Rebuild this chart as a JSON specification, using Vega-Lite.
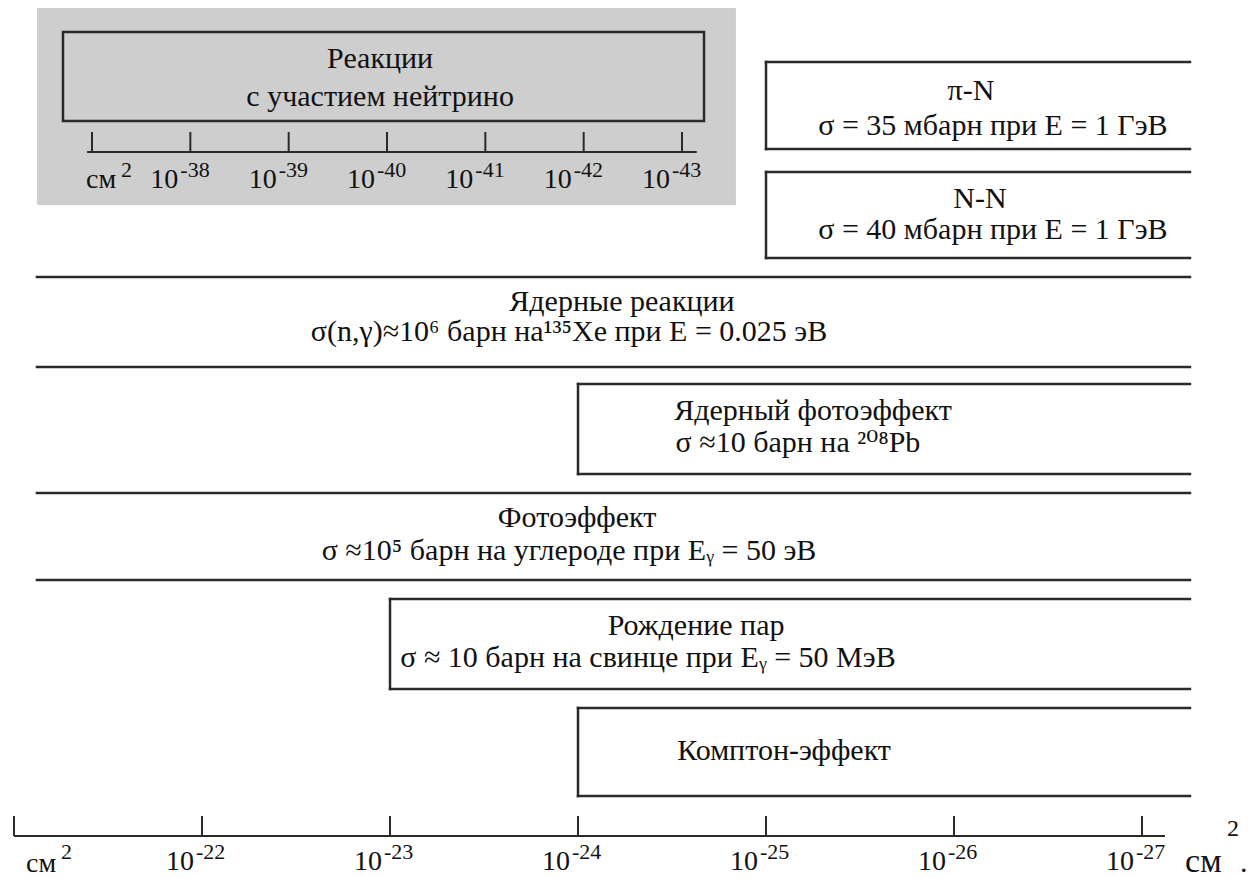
{
  "$schema": "https://vega.github.io/schema/vega-lite/v6.json",
  "width": 1249,
  "height": 878,
  "padding": 0,
  "background": "white",
  "config": {"view": {"stroke": null}, "font": "Times New Roman, Liberation Serif, DejaVu Serif, serif", "text": {"font": "Times New Roman, Liberation Serif, DejaVu Serif, serif", "color": "#111"}},
  "datasets": {
    "panel": [{"d0": 21.122, "d1": 24.84, "top": 8, "bottom": 205}],
    "boxes": [
      {"name": "π-N", "d0": 25, "d1": 27.255, "top": 62, "bottom": 149, "leftEdge": true},
      {"name": "N-N", "d0": 25, "d1": 27.255, "top": 172, "bottom": 258, "leftEdge": true},
      {"name": "Ядерные реакции", "d0": 21.122, "d1": 27.255, "top": 277, "bottom": 367, "leftEdge": false},
      {"name": "Ядерный фотоэффект", "d0": 24, "d1": 27.255, "top": 384, "bottom": 474, "leftEdge": true},
      {"name": "Фотоэффект", "d0": 21.122, "d1": 27.255, "top": 493, "bottom": 580, "leftEdge": false},
      {"name": "Рождение пар", "d0": 23, "d1": 27.255, "top": 599, "bottom": 689, "leftEdge": true},
      {"name": "Комптон-эффект", "d0": 24, "d1": 27.255, "top": 708, "bottom": 796, "leftEdge": true}
    ],
    "mainText": [
      {"d": 26.09, "y": 100, "text": "π-N"},
      {"d": 26.207, "y": 135, "text": "σ = 35 мбарн при Е = 1 ГэВ"},
      {"d": 26.138, "y": 208, "text": "N-N"},
      {"d": 26.207, "y": 239, "text": "σ = 40 мбарн при Е = 1 ГэВ"},
      {"d": 24.234, "y": 311, "text": "Ядерные реакции"},
      {"d": 23.952, "y": 341, "text": "σ(n,γ)≈10⁶ барн на¹³⁵Xe при Е = 0.025 эВ"},
      {"d": 25.25, "y": 420, "text": "Ядерный фотоэффект"},
      {"d": 25.17, "y": 452, "text": "σ ≈10 барн на ²⁰⁸Pb"},
      {"d": 23.995, "y": 527, "text": "Фотоэффект"},
      {"d": 23.952, "y": 560, "text": "σ ≈10⁵ барн на углероде при Eᵧ = 50 эВ"},
      {"d": 24.628, "y": 635, "text": "Рождение пар"},
      {"d": 24.372, "y": 667, "text": "σ ≈ 10 барн на свинце при Eᵧ = 50 МэВ"},
      {"d": 25.096, "y": 760, "text": "Комптон-эффект"}
    ],
    "mainLine": [{"d0": 21, "d1": 27.122, "y": 836}],
    "mainTicks": [
      {"d": 21, "kind": "unit", "base": "см", "sup": "2"},
      {"d": 22, "kind": "pow", "base": "10", "sup": "-22"},
      {"d": 23, "kind": "pow", "base": "10", "sup": "-23"},
      {"d": 24, "kind": "pow", "base": "10", "sup": "-24"},
      {"d": 25, "kind": "pow", "base": "10", "sup": "-25"},
      {"d": 26, "kind": "pow", "base": "10", "sup": "-26"},
      {"d": 27, "kind": "pow", "base": "10", "sup": "-27"}
    ],
    "endUnit": [{"d": 27.229, "base": "см", "sup": "2", "stop": "."}],
    "nuBox": [{"n0": 36.705, "n1": 43.224, "top": 32, "bottom": 121}],
    "nuText": [
      {"n": 39.93, "y": 68, "text": "Реакции"},
      {"n": 39.93, "y": 106, "text": "с участием нейтрино"}
    ],
    "nuLine": [{"n0": 36.95, "n1": 43.15, "y": 152}],
    "nuTicks": [
      {"n": 37, "kind": "unit", "base": "см", "sup": "2"},
      {"n": 38, "kind": "pow", "base": "10", "sup": "-38"},
      {"n": 39, "kind": "pow", "base": "10", "sup": "-39"},
      {"n": 40, "kind": "pow", "base": "10", "sup": "-40"},
      {"n": 41, "kind": "pow", "base": "10", "sup": "-41"},
      {"n": 42, "kind": "pow", "base": "10", "sup": "-42"},
      {"n": 43, "kind": "pow", "base": "10", "sup": "-43"}
    ]
  },
  "layer": [
    {
      "layer": [
        {
          "data": {"name": "panel"},
          "mark": {"type": "rect", "fill": "#cecece"},
          "encoding": {
            "x": {"field": "d0", "type": "quantitative", "scale": {"domain": [20.9255, 27.5691], "nice": false, "zero": false}, "axis": null},
            "x2": {"field": "d1"},
            "y": {"field": "top", "type": "quantitative", "scale": {"domain": [0, 878], "reverse": true, "nice": false, "zero": false}, "axis": null},
            "y2": {"field": "bottom"}
          }
        },
        {
          "data": {"name": "boxes"},
          "transform": [{"fold": ["top", "bottom"], "as": ["edge", "yy"]}],
          "mark": {"type": "rule", "color": "#2a2a2a", "strokeWidth": 2.5, "strokeCap": "square"},
          "encoding": {
            "x": {"field": "d0", "type": "quantitative", "scale": {"domain": [20.9255, 27.5691], "nice": false, "zero": false}, "axis": null},
            "x2": {"field": "d1"},
            "y": {"field": "yy", "type": "quantitative", "scale": {"domain": [0, 878], "reverse": true, "nice": false, "zero": false}, "axis": null}
          }
        },
        {
          "data": {"name": "boxes"},
          "transform": [{"filter": "datum.leftEdge"}],
          "mark": {"type": "rule", "color": "#2a2a2a", "strokeWidth": 2.5, "strokeCap": "square"},
          "encoding": {
            "x": {"field": "d0", "type": "quantitative", "scale": {"domain": [20.9255, 27.5691], "nice": false, "zero": false}, "axis": null},
            "y": {"field": "top", "type": "quantitative", "scale": {"domain": [0, 878], "reverse": true, "nice": false, "zero": false}, "axis": null},
            "y2": {"field": "bottom"}
          }
        },
        {
          "data": {"name": "mainText"},
          "mark": {"type": "text", "font": "Times New Roman, Liberation Serif, DejaVu Serif, serif", "fontSize": 30, "align": "center", "baseline": "alphabetic"},
          "encoding": {
            "x": {"field": "d", "type": "quantitative", "scale": {"domain": [20.9255, 27.5691], "nice": false, "zero": false}, "axis": null},
            "y": {"field": "y", "type": "quantitative", "scale": {"domain": [0, 878], "reverse": true, "nice": false, "zero": false}, "axis": null},
            "text": {"field": "text"}
          }
        },
        {
          "data": {"name": "mainLine"},
          "mark": {"type": "rule", "color": "#2a2a2a", "strokeWidth": 2},
          "encoding": {
            "x": {"field": "d0", "type": "quantitative", "scale": {"domain": [20.9255, 27.5691], "nice": false, "zero": false}, "axis": null},
            "x2": {"field": "d1"},
            "y": {"field": "y", "type": "quantitative", "scale": {"domain": [0, 878], "reverse": true, "nice": false, "zero": false}, "axis": null}
          }
        },
        {
          "data": {"name": "mainTicks"},
          "mark": {"type": "rule", "color": "#2a2a2a", "strokeWidth": 2},
          "encoding": {
            "x": {"field": "d", "type": "quantitative", "scale": {"domain": [20.9255, 27.5691], "nice": false, "zero": false}, "axis": null},
            "y": {"datum": 816, "type": "quantitative", "scale": {"domain": [0, 878], "reverse": true, "nice": false, "zero": false}, "axis": null},
            "y2": {"datum": 836}
          }
        },
        {
          "data": {"name": "mainTicks"},
          "transform": [{"filter": "datum.kind == 'pow'"}],
          "mark": {"type": "text", "font": "Times New Roman, Liberation Serif, DejaVu Serif, serif", "fontSize": 28, "align": "right", "baseline": "alphabetic", "dx": -8},
          "encoding": {
            "x": {"field": "d", "type": "quantitative", "scale": {"domain": [20.9255, 27.5691], "nice": false, "zero": false}, "axis": null},
            "y": {"datum": 870, "type": "quantitative", "scale": {"domain": [0, 878], "reverse": true, "nice": false, "zero": false}, "axis": null},
            "text": {"field": "base"}
          }
        },
        {
          "data": {"name": "mainTicks"},
          "transform": [{"filter": "datum.kind == 'pow'"}],
          "mark": {"type": "text", "font": "Times New Roman, Liberation Serif, DejaVu Serif, serif", "fontSize": 22, "align": "left", "baseline": "alphabetic", "dx": -6},
          "encoding": {
            "x": {"field": "d", "type": "quantitative", "scale": {"domain": [20.9255, 27.5691], "nice": false, "zero": false}, "axis": null},
            "y": {"datum": 859, "type": "quantitative", "scale": {"domain": [0, 878], "reverse": true, "nice": false, "zero": false}, "axis": null},
            "text": {"field": "sup"}
          }
        },
        {
          "data": {"name": "mainTicks"},
          "transform": [{"filter": "datum.kind == 'unit'"}],
          "mark": {"type": "text", "font": "Times New Roman, Liberation Serif, DejaVu Serif, serif", "fontSize": 28, "align": "left", "baseline": "alphabetic", "dx": 12},
          "encoding": {
            "x": {"field": "d", "type": "quantitative", "scale": {"domain": [20.9255, 27.5691], "nice": false, "zero": false}, "axis": null},
            "y": {"datum": 872, "type": "quantitative", "scale": {"domain": [0, 878], "reverse": true, "nice": false, "zero": false}, "axis": null},
            "text": {"field": "base"}
          }
        },
        {
          "data": {"name": "mainTicks"},
          "transform": [{"filter": "datum.kind == 'unit'"}],
          "mark": {"type": "text", "font": "Times New Roman, Liberation Serif, DejaVu Serif, serif", "fontSize": 22, "align": "left", "baseline": "alphabetic", "dx": 47},
          "encoding": {
            "x": {"field": "d", "type": "quantitative", "scale": {"domain": [20.9255, 27.5691], "nice": false, "zero": false}, "axis": null},
            "y": {"datum": 859, "type": "quantitative", "scale": {"domain": [0, 878], "reverse": true, "nice": false, "zero": false}, "axis": null},
            "text": {"field": "sup"}
          }
        },
        {
          "data": {"name": "endUnit"},
          "mark": {"type": "text", "font": "Times New Roman, Liberation Serif, DejaVu Serif, serif", "fontSize": 34, "align": "left", "baseline": "alphabetic"},
          "encoding": {
            "x": {"field": "d", "type": "quantitative", "scale": {"domain": [20.9255, 27.5691], "nice": false, "zero": false}, "axis": null},
            "y": {"datum": 872, "type": "quantitative", "scale": {"domain": [0, 878], "reverse": true, "nice": false, "zero": false}, "axis": null},
            "text": {"field": "base"}
          }
        },
        {
          "data": {"name": "endUnit"},
          "mark": {"type": "text", "font": "Times New Roman, Liberation Serif, DejaVu Serif, serif", "fontSize": 24, "align": "left", "baseline": "alphabetic", "dx": 42},
          "encoding": {
            "x": {"field": "d", "type": "quantitative", "scale": {"domain": [20.9255, 27.5691], "nice": false, "zero": false}, "axis": null},
            "y": {"datum": 836, "type": "quantitative", "scale": {"domain": [0, 878], "reverse": true, "nice": false, "zero": false}, "axis": null},
            "text": {"field": "sup"}
          }
        },
        {
          "data": {"name": "endUnit"},
          "mark": {"type": "text", "font": "Times New Roman, Liberation Serif, DejaVu Serif, serif", "fontSize": 30, "align": "left", "baseline": "alphabetic", "dx": 55},
          "encoding": {
            "x": {"field": "d", "type": "quantitative", "scale": {"domain": [20.9255, 27.5691], "nice": false, "zero": false}, "axis": null},
            "y": {"datum": 872, "type": "quantitative", "scale": {"domain": [0, 878], "reverse": true, "nice": false, "zero": false}, "axis": null},
            "text": {"field": "stop"}
          }
        }
      ]
    },
    {
      "layer": [
        {
          "data": {"name": "nuBox"},
          "mark": {"type": "rect", "fill": "transparent", "stroke": "#2a2a2a", "strokeWidth": 2.5},
          "encoding": {
            "x": {"field": "n0", "type": "quantitative", "scale": {"domain": [36.0644, 48.766], "nice": false, "zero": false}, "axis": null},
            "x2": {"field": "n1"},
            "y": {"field": "top", "type": "quantitative", "scale": {"domain": [0, 878], "reverse": true, "nice": false, "zero": false}, "axis": null},
            "y2": {"field": "bottom"}
          }
        },
        {
          "data": {"name": "nuText"},
          "mark": {"type": "text", "font": "Times New Roman, Liberation Serif, DejaVu Serif, serif", "fontSize": 30, "align": "center", "baseline": "alphabetic"},
          "encoding": {
            "x": {"field": "n", "type": "quantitative", "scale": {"domain": [36.0644, 48.766], "nice": false, "zero": false}, "axis": null},
            "y": {"field": "y", "type": "quantitative", "scale": {"domain": [0, 878], "reverse": true, "nice": false, "zero": false}, "axis": null},
            "text": {"field": "text"}
          }
        },
        {
          "data": {"name": "nuLine"},
          "mark": {"type": "rule", "color": "#2a2a2a", "strokeWidth": 2},
          "encoding": {
            "x": {"field": "n0", "type": "quantitative", "scale": {"domain": [36.0644, 48.766], "nice": false, "zero": false}, "axis": null},
            "x2": {"field": "n1"},
            "y": {"field": "y", "type": "quantitative", "scale": {"domain": [0, 878], "reverse": true, "nice": false, "zero": false}, "axis": null}
          }
        },
        {
          "data": {"name": "nuTicks"},
          "mark": {"type": "rule", "color": "#2a2a2a", "strokeWidth": 2},
          "encoding": {
            "x": {"field": "n", "type": "quantitative", "scale": {"domain": [36.0644, 48.766], "nice": false, "zero": false}, "axis": null},
            "y": {"datum": 132, "type": "quantitative", "scale": {"domain": [0, 878], "reverse": true, "nice": false, "zero": false}, "axis": null},
            "y2": {"datum": 152}
          }
        },
        {
          "data": {"name": "nuTicks"},
          "transform": [{"filter": "datum.kind == 'pow'"}],
          "mark": {"type": "text", "font": "Times New Roman, Liberation Serif, DejaVu Serif, serif", "fontSize": 28, "align": "right", "baseline": "alphabetic", "dx": -12},
          "encoding": {
            "x": {"field": "n", "type": "quantitative", "scale": {"domain": [36.0644, 48.766], "nice": false, "zero": false}, "axis": null},
            "y": {"datum": 188, "type": "quantitative", "scale": {"domain": [0, 878], "reverse": true, "nice": false, "zero": false}, "axis": null},
            "text": {"field": "base"}
          }
        },
        {
          "data": {"name": "nuTicks"},
          "transform": [{"filter": "datum.kind == 'pow'"}],
          "mark": {"type": "text", "font": "Times New Roman, Liberation Serif, DejaVu Serif, serif", "fontSize": 22, "align": "left", "baseline": "alphabetic", "dx": -10},
          "encoding": {
            "x": {"field": "n", "type": "quantitative", "scale": {"domain": [36.0644, 48.766], "nice": false, "zero": false}, "axis": null},
            "y": {"datum": 177, "type": "quantitative", "scale": {"domain": [0, 878], "reverse": true, "nice": false, "zero": false}, "axis": null},
            "text": {"field": "sup"}
          }
        },
        {
          "data": {"name": "nuTicks"},
          "transform": [{"filter": "datum.kind == 'unit'"}],
          "mark": {"type": "text", "font": "Times New Roman, Liberation Serif, DejaVu Serif, serif", "fontSize": 28, "align": "left", "baseline": "alphabetic", "dx": -6},
          "encoding": {
            "x": {"field": "n", "type": "quantitative", "scale": {"domain": [36.0644, 48.766], "nice": false, "zero": false}, "axis": null},
            "y": {"datum": 188, "type": "quantitative", "scale": {"domain": [0, 878], "reverse": true, "nice": false, "zero": false}, "axis": null},
            "text": {"field": "base"}
          }
        },
        {
          "data": {"name": "nuTicks"},
          "transform": [{"filter": "datum.kind == 'unit'"}],
          "mark": {"type": "text", "font": "Times New Roman, Liberation Serif, DejaVu Serif, serif", "fontSize": 22, "align": "left", "baseline": "alphabetic", "dx": 29},
          "encoding": {
            "x": {"field": "n", "type": "quantitative", "scale": {"domain": [36.0644, 48.766], "nice": false, "zero": false}, "axis": null},
            "y": {"datum": 177, "type": "quantitative", "scale": {"domain": [0, 878], "reverse": true, "nice": false, "zero": false}, "axis": null},
            "text": {"field": "sup"}
          }
        }
      ]
    }
  ],
  "resolve": {"scale": {"x": "independent"}}
}
